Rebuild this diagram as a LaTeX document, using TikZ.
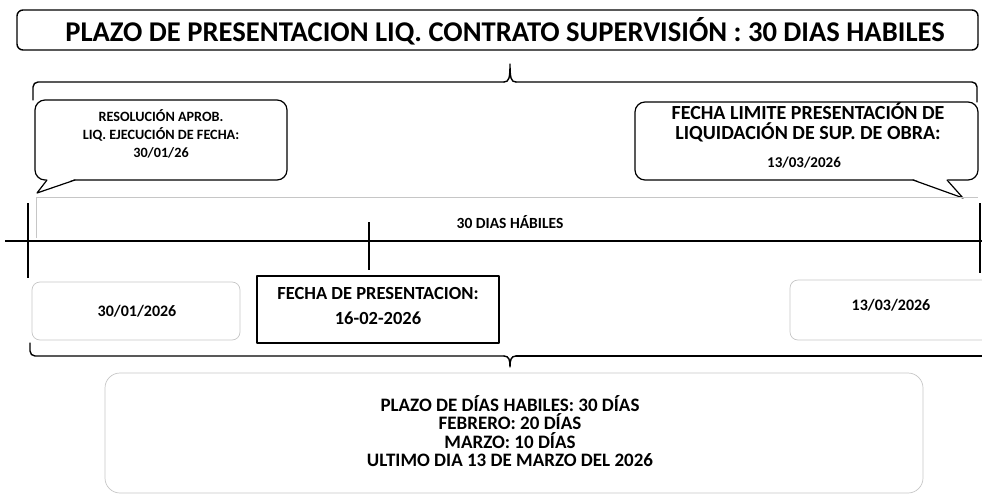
\documentclass[tikz,border=0pt]{standalone}
\usepackage{fontspec}
\setmainfont{Carlito}
\begin{document}
\begin{tikzpicture}[x=1pt,y=-1pt,
  bl/.style={line width=1.4pt, draw=black, line cap=round, line join=round},
  cl/.style={line width=1.2pt, draw=black, line cap=round, line join=round},
  faint/.style={draw=gray!45, line width=0.7pt},
  tl/.style={line width=2.6pt, draw=black},
  txt/.style={font=\bfseries, align=center, inner sep=0pt},
]
\useasboundingbox (0,0) rectangle (982,501);

% title
\node[bl, rounded corners=6pt, minimum width=961pt, minimum height=40pt, inner sep=0pt] (titlebox) at (497.5,30) {};
\node[txt, font=\bfseries\fontsize{28.6}{30}\selectfont] (title) at (505,31) {PLAZO DE PRESENTACION LIQ. CONTRATO SUPERVISIÓN : 30 DIAS HABILES};

% top brace
\coordinate (tb) at (510,64);
\coordinate (tbl) at (33,100);
\coordinate (tbr) at (977,102);
\draw[bl, rounded corners=5pt] (tbl) -- (33,82) -- (504,82);
\draw[bl] (504,82) .. controls (509,82) and (510,78) .. (tb) .. controls (510,78) and (511,82) .. (516,82);
\draw[bl, rounded corners=5pt] (516,82) -- (977,82) -- (tbr);

% left callout
\node[cl, rounded corners=10pt, minimum width=252pt, minimum height=80pt, inner sep=0pt] (lc) at (161,140) {};
\coordinate (lctip) at (37,193);
\fill[white] (47,179) -- (lctip) -- (75,179) -- cycle;
\draw[cl] (47,180) -- (lctip) -- (75,180);
\node[txt, font=\bfseries\fontsize{14.2}{18}\selectfont] (lct) at (161,134) {RESOLUCIÓN APROB.\\LIQ. EJECUCIÓN DE FECHA:\\30/01/26};

% right callout
\node[cl, rounded corners=10pt, minimum width=343pt, minimum height=78pt, inner sep=0pt] (rc) at (806.5,141) {};
\coordinate (rctip) at (963,198);
\fill[white] (913,179) -- (rctip) -- (947,179) -- cycle;
\draw[cl] (913,180) -- (rctip) -- (947,180);
\node[txt, font=\bfseries\fontsize{20}{20}\selectfont] (rct) at (808,122) {FECHA LIMITE PRESENTACIÓN DE\\LIQUIDACIÓN DE SUP. DE OBRA:};
\node[txt, font=\bfseries\fontsize{15}{18}\selectfont] (rcd) at (804,163) {13/03/2026};

% 30 dias habiles band
\draw[faint] (36,238) -- (36,197) -- (978,197);
\node[txt, font=\bfseries\fontsize{15.5}{16}\selectfont] (band) at (510,222) {30 DIAS HÁBILES};

% timeline
\coordinate (t0) at (5,241);
\coordinate (t1) at (982,241);
\draw[tl] (t0) -- (t1);
\coordinate (c1a) at (28,203); \coordinate (c1b) at (28,278);
\coordinate (c2a) at (369,222); \coordinate (c2b) at (369,270);
\coordinate (c3a) at (980,203); \coordinate (c3b) at (980,273);
\draw[tl] (c1a) -- (c1b);
\draw[tl] (c2a) -- (c2b);
\draw[line width=2pt] (c3a) -- (c3b);

% date boxes
\node[faint, rounded corners=8pt, minimum width=208pt, minimum height=58pt, inner sep=0pt] (d1) at (136,311) {};
\node[txt, font=\bfseries\fontsize{16}{18}\selectfont] (d1t) at (137,311) {30/01/2026};
\node[bl, minimum width=242pt, minimum height=67pt, inner sep=0pt] (d2) at (378,309.5) {};
\node[txt, font=\bfseries\fontsize{18.5}{25}\selectfont] (d2t) at (378,306) {FECHA DE PRESENTACION:\\16-02-2026};
\node[faint, rounded corners=8pt, minimum width=200pt, minimum height=60pt, inner sep=0pt] (d3) at (890,310) {};
\node[txt, font=\bfseries\fontsize{16}{18}\selectfont] (d3t) at (891,305) {13/03/2026};

% bottom brace
\coordinate (bb) at (510,367);
\draw[bl, rounded corners=5pt] (30,343) -- (30,356) -- (504,356);
\draw[bl] (504,356) .. controls (509,356) and (510,360) .. (bb) .. controls (510,360) and (511,356) .. (516,356);
\draw[bl] (516,356) -- (982,356);

% bottom box
\node[faint, rounded corners=15pt, minimum width=818pt, minimum height=120pt, inner sep=0pt] (sum) at (514,433) {};
\node[txt, font=\bfseries\fontsize{19}{18.5}\selectfont] (sumt) at (510,431) {PLAZO DE DÍAS HABILES: 30 DÍAS\\FEBRERO: 20 DÍAS\\MARZO: 10 DÍAS\\ULTIMO DIA 13 DE MARZO DEL 2026};
\end{tikzpicture}
\end{document}
